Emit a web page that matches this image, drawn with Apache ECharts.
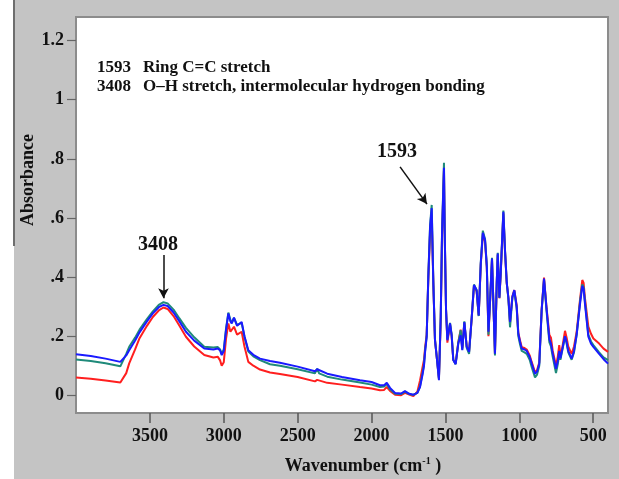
<!DOCTYPE html>
<html><head><meta charset="utf-8">
<script src="https://cdn.jsdelivr.net/npm/echarts@6/dist/echarts.min.js"></script>
<style>html,body{margin:0;padding:0;background:#fff}#c{width:619px;height:479px}</style>
</head><body><div id="c"></div>
<script>
const wavenumbers = [4000,3900,3800,3700,3690,3660,3640,3600,3570,3520,3480,3440,3408,3380,3340,3300,3256,3200,3132,3070,3040,3025,3014,3000,2985,2969,2955,2946,2931,2910,2902,2879,2860,2834,2800,2755,2687,2620,2500,2383,2368,2355,2300,2200,2078,2000,1943,1915,1897,1875,1841,1800,1774,1745,1717,1690,1672,1655,1645,1638,1627,1616,1604,1593,1582,1571,1559,1544,1532,1523,1510,1505,1496,1487,1469,1458,1447,1431,1413,1397,1386,1372,1356,1340,1322,1307,1289,1275,1261,1247,1232,1220,1209,1198,1185,1176,1165,1153,1146,1135,1126,1108,1097,1085,1074,1063,1047,1034,1018,1007,995,984,965,950,930,916,894,880,865,849,833,815,797,786,774,752,740,730,722,713,691,680,669,646,630,612,589,574,565,556,533,515,499,460,430,400];
const sampleBlue = [0.139,0.133,0.124,0.113,0.115,0.135,0.152,0.185,0.213,0.250,0.277,0.298,0.306,0.302,0.280,0.250,0.215,0.185,0.158,0.155,0.158,0.152,0.136,0.150,0.220,0.277,0.250,0.243,0.263,0.235,0.232,0.248,0.200,0.152,0.137,0.124,0.116,0.110,0.097,0.081,0.088,0.082,0.073,0.062,0.051,0.045,0.034,0.034,0.042,0.025,0.008,0.006,0.014,0.005,0.002,0.008,0.028,0.070,0.100,0.145,0.198,0.400,0.570,0.633,0.380,0.186,0.130,0.051,0.265,0.550,0.770,0.550,0.288,0.186,0.243,0.203,0.119,0.105,0.175,0.203,0.153,0.248,0.164,0.147,0.265,0.373,0.356,0.270,0.446,0.550,0.525,0.435,0.215,0.320,0.463,0.320,0.141,0.379,0.480,0.330,0.413,0.621,0.490,0.380,0.330,0.248,0.333,0.356,0.300,0.209,0.180,0.158,0.155,0.150,0.130,0.107,0.073,0.080,0.107,0.288,0.395,0.288,0.190,0.175,0.141,0.090,0.115,0.150,0.125,0.130,0.200,0.180,0.150,0.124,0.150,0.205,0.310,0.370,0.360,0.310,0.198,0.175,0.164,0.140,0.122,0.107];
const sampleTeal = [0.121,0.116,0.108,0.098,0.100,0.140,0.164,0.195,0.222,0.258,0.284,0.306,0.315,0.311,0.290,0.260,0.228,0.196,0.164,0.162,0.163,0.155,0.140,0.155,0.225,0.280,0.255,0.245,0.262,0.238,0.234,0.245,0.198,0.148,0.132,0.119,0.105,0.100,0.088,0.074,0.090,0.074,0.063,0.053,0.043,0.036,0.028,0.030,0.038,0.020,0.005,0.004,0.012,0.004,0.001,0.008,0.030,0.075,0.105,0.150,0.200,0.400,0.575,0.644,0.385,0.190,0.130,0.055,0.265,0.555,0.787,0.560,0.290,0.190,0.245,0.205,0.120,0.105,0.178,0.220,0.155,0.250,0.160,0.140,0.265,0.375,0.355,0.268,0.448,0.557,0.528,0.440,0.205,0.322,0.465,0.320,0.135,0.380,0.482,0.330,0.415,0.625,0.492,0.380,0.325,0.230,0.330,0.352,0.295,0.200,0.172,0.150,0.145,0.140,0.120,0.095,0.060,0.070,0.100,0.285,0.392,0.280,0.180,0.165,0.130,0.075,0.105,0.140,0.120,0.125,0.198,0.175,0.145,0.120,0.145,0.205,0.318,0.375,0.365,0.318,0.205,0.182,0.170,0.145,0.128,0.119];
const sampleRed = [0.060,0.056,0.050,0.043,0.045,0.075,0.108,0.155,0.193,0.235,0.265,0.287,0.297,0.292,0.268,0.235,0.198,0.165,0.136,0.128,0.130,0.118,0.100,0.112,0.190,0.243,0.215,0.209,0.232,0.205,0.203,0.215,0.165,0.113,0.100,0.087,0.077,0.072,0.062,0.047,0.052,0.046,0.042,0.036,0.028,0.023,0.017,0.018,0.028,0.015,0.002,0.000,0.008,0.002,-0.003,0.012,0.050,0.095,0.120,0.160,0.205,0.390,0.550,0.600,0.380,0.190,0.130,0.058,0.250,0.540,0.760,0.545,0.290,0.178,0.240,0.200,0.120,0.108,0.180,0.222,0.160,0.245,0.165,0.148,0.262,0.370,0.352,0.270,0.440,0.545,0.520,0.432,0.200,0.318,0.458,0.318,0.140,0.375,0.475,0.328,0.410,0.615,0.487,0.378,0.330,0.245,0.335,0.356,0.305,0.212,0.185,0.163,0.160,0.155,0.135,0.112,0.078,0.085,0.112,0.290,0.398,0.292,0.205,0.195,0.150,0.100,0.130,0.170,0.140,0.150,0.218,0.195,0.165,0.140,0.165,0.215,0.325,0.390,0.380,0.330,0.232,0.208,0.192,0.175,0.158,0.147];
const xTickValues = [3500,3000,2500,2000,1500,1000,500];
const xTickLabels = ['3500','3000','2500','2000','1500','1000','500'];
const yTickValues = [0,0.2,0.4,0.6,0.8,1,1.2];
const yTickLabels = ['0','.2','.4','.6','.8','1','1.2'];
const noteNumbers = ['1593','3408'];
const noteTexts = ['Ring C=C stretch','O\u2013H stretch, intermolecular hydrogen bonding'];
const peakLabels = ['1593','3408'];

const SERIF = '"Liberation Serif","Times New Roman",serif';
const pairs = vals => wavenumbers.map((w,i)=>[w, vals[i]]);
const lbl = (vals, labels) => v => { const i = vals.findIndex(t => Math.abs(t - v) < 1e-9); return i >= 0 ? labels[i] : ''; };

const chart = echarts.init(document.getElementById('c'), null, {renderer:'canvas'});
const lineSeries = (name, vals, color) => ({
  name, type:'line', data: pairs(vals), showSymbol:false, symbol:'none',
  lineStyle:{color, width:2}, itemStyle:{color}, silent:true, animation:false
});
const arrowStyle = {color:'#111', width:1.5, type:'solid'};
const noteFont = 'bold 17px ' + SERIF;
chart.setOption({
  animation:false,
  backgroundColor:'#fff',
  graphic:[
    {type:'rect', left:14, top:0, z:-10, shape:{width:605, height:479}, style:{fill:'#c4c4c4'}},
    {type:'line', z:-9, shape:{x1:14, y1:0, x2:14, y2:246}, style:{stroke:'#6e6e6e', lineWidth:2}},
    {type:'text', left:97, top:59, z:10, style:{text:noteNumbers[0], font:noteFont, fill:'#111'}},
    {type:'text', left:143, top:59, z:10, style:{text:noteTexts[0], font:noteFont, fill:'#111'}},
    {type:'text', left:97, top:78, z:10, style:{text:noteNumbers[1], font:noteFont, fill:'#111'}},
    {type:'text', left:143, top:78, z:10, style:{text:noteTexts[1], font:noteFont, fill:'#111'}},
    {type:'text', x:28, y:180, rotation:Math.PI/2, z:10,
      style:{text:'Absorbance', font:'bold 18px '+SERIF, fill:'#111', align:'center', verticalAlign:'middle'}},
    {type:'text', x:363, y:466, z:10,
      style:{text:'{a|Wavenumber (cm}{s|-1}{a| )}', align:'center', verticalAlign:'middle',
        rich:{a:{font:'bold 18px '+SERIF, fill:'#111', lineHeight:20},
              s:{font:'bold 10px '+SERIF, fill:'#111', lineHeight:10, verticalAlign:'top'}}}}
  ],
  grid:{left:76, right:11, top:17, bottom:66, show:true, backgroundColor:'#fff', borderColor:'#8c8c8c', borderWidth:2, containLabel:false},
  xAxis:{
    type:'value', inverse:true, min:400, max:4000, position:'bottom',
    axisLine:{show:true, onZero:false, lineStyle:{color:'#8c8c8c', width:2}}, splitLine:{show:false},
    axisTick:{show:true, inside:false, length:10, lineStyle:{color:'#555', width:1.5}, customValues:xTickValues},
    axisLabel:{customValues:xTickValues, formatter:lbl(xTickValues,xTickLabels), margin:14,
      fontFamily:SERIF, fontWeight:'bold', fontSize:18, color:'#111'}
  },
  yAxis:{
    type:'value', min:-0.06, max:1.28,
    axisLine:{show:true, onZero:false, lineStyle:{color:'#8c8c8c', width:2}}, splitLine:{show:false},
    axisTick:{show:true, length:9, lineStyle:{color:'#666', width:1.2}, customValues:yTickValues},
    axisLabel:{customValues:yTickValues, formatter:lbl(yTickValues,yTickLabels), margin:12,
      fontFamily:SERIF, fontWeight:'bold', fontSize:18, color:'#111'}
  },
  series:[
    lineSeries('Sample A', sampleRed, '#ff1f1f'),
    lineSeries('Sample B', sampleTeal, '#1f8a7a'),
    lineSeries('Sample C', sampleBlue, '#1a1aff'),
    {
      name:'annotations', type:'line', data:[], silent:true, z:5,
      markLine:{
        silent:true, animation:false, symbol:['none','arrow'], symbolSize:[8,10],
        lineStyle:arrowStyle, label:{show:false},
        data:[
          [{coord:[3408,0.475]},{coord:[3408,0.328]}],
          [{coord:[1807,0.773]},{coord:[1625,0.647]}]
        ]
      },
      markPoint:{
        silent:true, animation:false, symbol:'rect', symbolSize:1, itemStyle:{color:'rgba(0,0,0,0)'},
        label:{show:true, position:'inside', fontFamily:SERIF, fontWeight:'bold', fontSize:20, color:'#111', formatter:'{b}'},
        data:[
          {name:peakLabels[0], coord:[1828,0.824]},
          {name:peakLabels[1], coord:[3445,0.508]}
        ]
      }
    }
  ]
});
</script></body></html>
